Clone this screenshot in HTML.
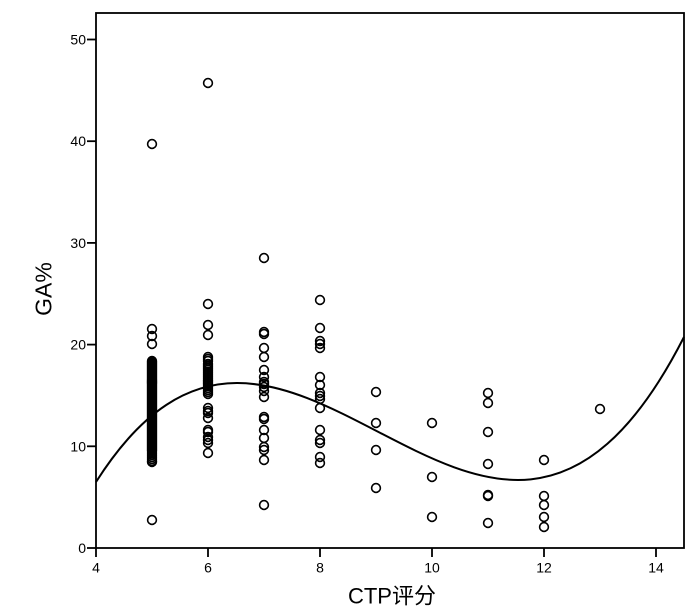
<!DOCTYPE html>
<html><head><meta charset="utf-8"><style>
html,body{margin:0;padding:0;background:#fff;}
svg{display:block;}
text{font-family:"Liberation Sans","Noto Sans CJK SC",sans-serif;fill:#000;}
</style></head><body>
<svg width="700" height="615" viewBox="0 0 700 615" xmlns="http://www.w3.org/2000/svg">
<rect x="0" y="0" width="700" height="615" fill="#fff"/>
<rect x="96" y="13" width="588" height="535" fill="none" stroke="#000" stroke-width="1.8"/>
<g stroke="#000" stroke-width="1.8">
<line x1="87" y1="548" x2="96" y2="548"/>
<line x1="87" y1="446.3" x2="96" y2="446.3"/>
<line x1="87" y1="344.6" x2="96" y2="344.6"/>
<line x1="87" y1="242.9" x2="96" y2="242.9"/>
<line x1="87" y1="141.2" x2="96" y2="141.2"/>
<line x1="87" y1="39.5" x2="96" y2="39.5"/>
<line x1="96" y1="548" x2="96" y2="557"/>
<line x1="208" y1="548" x2="208" y2="557"/>
<line x1="320" y1="548" x2="320" y2="557"/>
<line x1="432" y1="548" x2="432" y2="557"/>
<line x1="544" y1="548" x2="544" y2="557"/>
<line x1="656" y1="548" x2="656" y2="557"/>
</g>
<g font-size="14" text-anchor="end">
<text x="86" y="553">0</text>
<text x="86" y="451.3">10</text>
<text x="86" y="349.6">20</text>
<text x="86" y="247.9">30</text>
<text x="86" y="146.2">40</text>
<text x="86" y="44.5">50</text>
</g>
<g font-size="14" text-anchor="middle">
<text x="96" y="572.5">4</text>
<text x="208" y="572.5">6</text>
<text x="320" y="572.5">8</text>
<text x="432" y="572.5">10</text>
<text x="544" y="572.5">12</text>
<text x="656" y="572.5">14</text>
</g>
<text x="392" y="603.5" font-size="22" text-anchor="middle" fill="#111">CTP评分</text>
<text transform="translate(51.5,289) rotate(-90)" font-size="23" text-anchor="middle" fill="#111">GA%</text>
<g fill="none" stroke="#000" stroke-width="1.6">
<circle cx="152" cy="144" r="4.4"/><circle cx="152" cy="520" r="4.4"/>
<circle cx="152" cy="329" r="4.4"/><circle cx="152" cy="336" r="4.4"/><circle cx="152" cy="344" r="4.4"/>
<circle cx="152" cy="361" r="4.4"/><circle cx="152" cy="362" r="4.4"/><circle cx="152" cy="363" r="4.4"/><circle cx="152" cy="364" r="4.4"/><circle cx="152" cy="365" r="4.4"/><circle cx="152" cy="366" r="4.4"/><circle cx="152" cy="367" r="4.4"/><circle cx="152" cy="368" r="4.4"/><circle cx="152" cy="369" r="4.4"/><circle cx="152" cy="370" r="4.4"/>
<circle cx="152" cy="371" r="4.4"/><circle cx="152" cy="372" r="4.4"/><circle cx="152" cy="373" r="4.4"/><circle cx="152" cy="374" r="4.4"/><circle cx="152" cy="375" r="4.4"/><circle cx="152" cy="376" r="4.4"/><circle cx="152" cy="377" r="4.4"/><circle cx="152" cy="378" r="4.4"/><circle cx="152" cy="379" r="4.4"/><circle cx="152" cy="380" r="4.4"/>
<circle cx="152" cy="381" r="4.4"/><circle cx="152" cy="382" r="4.4"/><circle cx="152" cy="383" r="4.4"/><circle cx="152" cy="384" r="4.4"/><circle cx="152" cy="385" r="4.4"/><circle cx="152" cy="386" r="4.4"/><circle cx="152" cy="387" r="4.4"/><circle cx="152" cy="388" r="4.4"/><circle cx="152" cy="389" r="4.4"/><circle cx="152" cy="390" r="4.4"/>
<circle cx="152" cy="391" r="4.4"/><circle cx="152" cy="392" r="4.4"/><circle cx="152" cy="393" r="4.4"/><circle cx="152" cy="394" r="4.4"/><circle cx="152" cy="395" r="4.4"/><circle cx="152" cy="396" r="4.4"/><circle cx="152" cy="397" r="4.4"/><circle cx="152" cy="398" r="4.4"/><circle cx="152" cy="399" r="4.4"/><circle cx="152" cy="400" r="4.4"/>
<circle cx="152" cy="401" r="4.4"/><circle cx="152" cy="402" r="4.4"/><circle cx="152" cy="403" r="4.4"/><circle cx="152" cy="404" r="4.4"/><circle cx="152" cy="405" r="4.4"/><circle cx="152" cy="406" r="4.4"/><circle cx="152" cy="407" r="4.4"/><circle cx="152" cy="408" r="4.4"/><circle cx="152" cy="409" r="4.4"/><circle cx="152" cy="410" r="4.4"/>
<circle cx="152" cy="411" r="4.4"/><circle cx="152" cy="412" r="4.4"/><circle cx="152" cy="413" r="4.4"/><circle cx="152" cy="414" r="4.4"/><circle cx="152" cy="415" r="4.4"/><circle cx="152" cy="416" r="4.4"/><circle cx="152" cy="417" r="4.4"/><circle cx="152" cy="418" r="4.4"/><circle cx="152" cy="419" r="4.4"/><circle cx="152" cy="420" r="4.4"/>
<circle cx="152" cy="421" r="4.4"/><circle cx="152" cy="422" r="4.4"/><circle cx="152" cy="423" r="4.4"/><circle cx="152" cy="424" r="4.4"/><circle cx="152" cy="425" r="4.4"/><circle cx="152" cy="426" r="4.4"/><circle cx="152" cy="427" r="4.4"/><circle cx="152" cy="428" r="4.4"/><circle cx="152" cy="429" r="4.4"/><circle cx="152" cy="430" r="4.4"/>
<circle cx="152" cy="431" r="4.4"/><circle cx="152" cy="432" r="4.4"/><circle cx="152" cy="433" r="4.4"/><circle cx="152" cy="434" r="4.4"/><circle cx="152" cy="435" r="4.4"/><circle cx="152" cy="436" r="4.4"/><circle cx="152" cy="437" r="4.4"/><circle cx="152" cy="438" r="4.4"/><circle cx="152" cy="439" r="4.4"/><circle cx="152" cy="440" r="4.4"/>
<circle cx="152" cy="441" r="4.4"/><circle cx="152" cy="442" r="4.4"/><circle cx="152" cy="443" r="4.4"/><circle cx="152" cy="444" r="4.4"/><circle cx="152" cy="445" r="4.4"/><circle cx="152" cy="446" r="4.4"/><circle cx="152" cy="447" r="4.4"/><circle cx="152" cy="448" r="4.4"/><circle cx="152" cy="449" r="4.4"/><circle cx="152" cy="450" r="4.4"/>
<circle cx="152" cy="451" r="4.4"/><circle cx="152" cy="453" r="4.4"/><circle cx="152" cy="455" r="4.4"/><circle cx="152" cy="457" r="4.4"/><circle cx="152" cy="459" r="4.4"/><circle cx="152" cy="461" r="4.4"/><circle cx="152" cy="462" r="4.4"/>
<circle cx="208" cy="83" r="4.4"/><circle cx="208" cy="304" r="4.4"/><circle cx="208" cy="325" r="4.4"/><circle cx="208" cy="335" r="4.4"/>
<circle cx="208" cy="357" r="4.4"/><circle cx="208" cy="359" r="4.4"/><circle cx="208" cy="361" r="4.4"/><circle cx="208" cy="364" r="4.4"/><circle cx="208" cy="366" r="4.4"/><circle cx="208" cy="368" r="4.4"/><circle cx="208" cy="370" r="4.4"/><circle cx="208" cy="372" r="4.4"/><circle cx="208" cy="374" r="4.4"/>
<circle cx="208" cy="376" r="4.4"/><circle cx="208" cy="378" r="4.4"/><circle cx="208" cy="380" r="4.4"/><circle cx="208" cy="382" r="4.4"/><circle cx="208" cy="384" r="4.4"/><circle cx="208" cy="386" r="4.4"/><circle cx="208" cy="388" r="4.4"/><circle cx="208" cy="390" r="4.4"/><circle cx="208" cy="392" r="4.4"/><circle cx="208" cy="394" r="4.4"/>
<circle cx="208" cy="408" r="4.4"/><circle cx="208" cy="411" r="4.4"/><circle cx="208" cy="413" r="4.4"/><circle cx="208" cy="418" r="4.4"/><circle cx="208" cy="430" r="4.4"/><circle cx="208" cy="432" r="4.4"/>
<circle cx="208" cy="437" r="4.4"/><circle cx="208" cy="440" r="4.4"/><circle cx="208" cy="443" r="4.4"/><circle cx="208" cy="453" r="4.4"/>
<circle cx="264" cy="258" r="4.4"/><circle cx="264" cy="332" r="4.4"/><circle cx="264" cy="334" r="4.4"/><circle cx="264" cy="348" r="4.4"/><circle cx="264" cy="357" r="4.4"/>
<circle cx="264" cy="370" r="4.4"/><circle cx="264" cy="377" r="4.4"/><circle cx="264" cy="382" r="4.4"/><circle cx="264" cy="384" r="4.4"/><circle cx="264" cy="387" r="4.4"/>
<circle cx="264" cy="391" r="4.4"/><circle cx="264" cy="397" r="4.4"/><circle cx="264" cy="417" r="4.4"/><circle cx="264" cy="419" r="4.4"/><circle cx="264" cy="430" r="4.4"/>
<circle cx="264" cy="438" r="4.4"/><circle cx="264" cy="447" r="4.4"/><circle cx="264" cy="450" r="4.4"/><circle cx="264" cy="460" r="4.4"/><circle cx="264" cy="505" r="4.4"/>
<circle cx="320" cy="300" r="4.4"/><circle cx="320" cy="328" r="4.4"/><circle cx="320" cy="341" r="4.4"/><circle cx="320" cy="344" r="4.4"/><circle cx="320" cy="348" r="4.4"/>
<circle cx="320" cy="377" r="4.4"/><circle cx="320" cy="385" r="4.4"/><circle cx="320" cy="393" r="4.4"/><circle cx="320" cy="396" r="4.4"/><circle cx="320" cy="399" r="4.4"/>
<circle cx="320" cy="408" r="4.4"/><circle cx="320" cy="430" r="4.4"/><circle cx="320" cy="440" r="4.4"/><circle cx="320" cy="443" r="4.4"/><circle cx="320" cy="457" r="4.4"/><circle cx="320" cy="463" r="4.4"/>
<circle cx="376" cy="392" r="4.4"/><circle cx="376" cy="423" r="4.4"/><circle cx="376" cy="450" r="4.4"/><circle cx="376" cy="488" r="4.4"/>
<circle cx="432" cy="423" r="4.4"/><circle cx="432" cy="477" r="4.4"/><circle cx="432" cy="517" r="4.4"/>
<circle cx="488" cy="393" r="4.4"/><circle cx="488" cy="403" r="4.4"/><circle cx="488" cy="432" r="4.4"/><circle cx="488" cy="464" r="4.4"/>
<circle cx="488" cy="495" r="4.4"/><circle cx="488" cy="496" r="4.4"/><circle cx="488" cy="523" r="4.4"/>
<circle cx="544" cy="460" r="4.4"/><circle cx="544" cy="496" r="4.4"/><circle cx="544" cy="505" r="4.4"/><circle cx="544" cy="517" r="4.4"/><circle cx="544" cy="527" r="4.4"/>
<circle cx="600" cy="409" r="4.4"/>
</g>
<path d="M96,482 C292,173.2 488,721.7 684,337" fill="none" stroke="#000" stroke-width="2"/>
</svg>
</body></html>
